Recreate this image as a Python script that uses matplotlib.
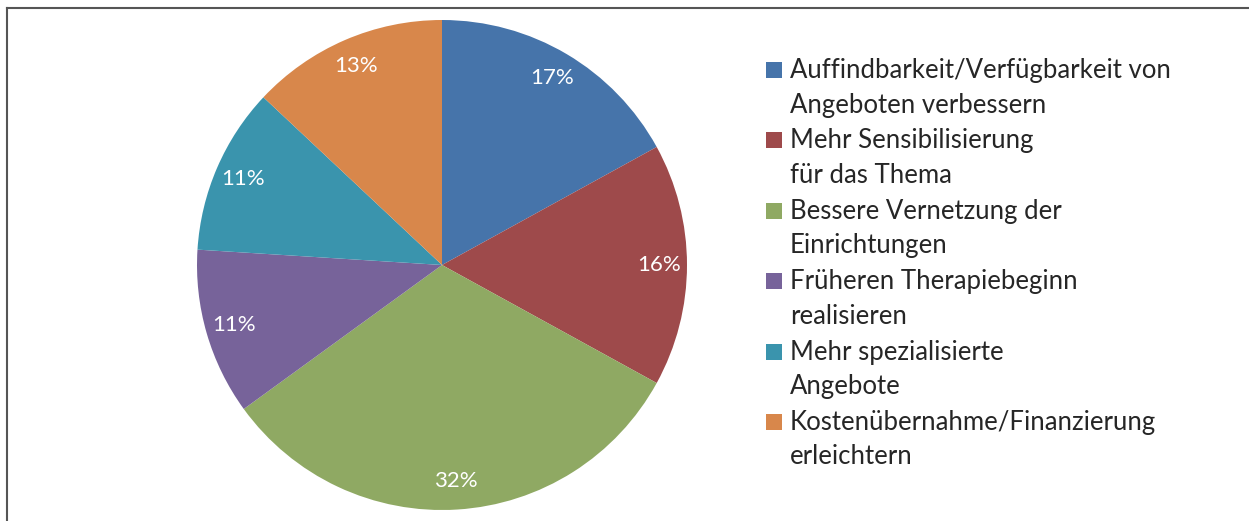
import matplotlib.pyplot as plt
from matplotlib.patches import Rectangle

labels = [
    "Auffindbarkeit/Verfügbarkeit von\nAngeboten verbessern",
    "Mehr Sensibilisierung\nfür das Thema",
    "Bessere Vernetzung der\nEinrichtungen",
    "Früheren Therapiebeginn\nrealisieren",
    "Mehr spezialisierte\nAngebote",
    "Kostenübernahme/Finanzierung\nerleichtern",
]
shares = [17, 16, 32, 11, 11, 13]
colors = ["#4674AA", "#9E4A4B", "#8FA963", "#77639A", "#3A94AD", "#D8874B"]

plt.rcParams['font.family'] = ['Lato', 'DejaVu Sans']

W, H = 1249, 521
fig = plt.figure(figsize=(W / 100, H / 100), dpi=100)

# pie centre ~ (442, 265) px, radius ~245 px
cx, cy, r = 442, 265, 245
ax = fig.add_axes([(cx - r) / W, (H - cy - r) / H, 2 * r / W, 2 * r / H])
wedges, texts, autotexts = ax.pie(
    shares, colors=colors, startangle=90, counterclock=False,
    autopct=lambda p: f"{p:.0f}%", pctdistance=0.885,
    textprops=dict(color="white", fontsize=16),
)
ax.set_xlim(-1, 1)
ax.set_ylim(-1, 1)
ax.set_aspect("equal")

# legend drawn by hand: marker aligned with the first line of each entry
for i, (lab, c) in enumerate(zip(labels, colors)):
    base = 78 + 70.4 * i
    fig.add_artist(Rectangle((766 / W, 1 - base / H), 16 / W, 16 / H,
                             facecolor=c, edgecolor="none", transform=fig.transFigure))
    for j, line in enumerate(lab.split("\n")):
        fig.text(790 / W, 1 - (base + 34.5 * j) / H, line, fontsize=18.5,
                 color="#262626", va="baseline", ha="left")

# partial frame: top and left edge
fig.add_artist(plt.Line2D([6.5 / W, 1], [1 - 7.5 / H, 1 - 7.5 / H], color="#555555", lw=1.5))
fig.add_artist(plt.Line2D([6.5 / W, 6.5 / W], [0, 1 - 7.5 / H], color="#555555", lw=1.5))

fig.savefig("out.png", dpi=100)
